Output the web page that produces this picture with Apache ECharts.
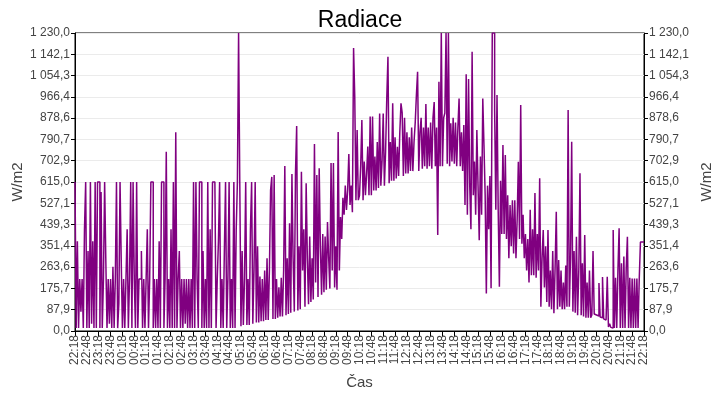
<!DOCTYPE html>
<html>
<head>
<meta charset="utf-8">
<title>Radiace</title>
<script src="https://cdn.jsdelivr.net/npm/echarts@6/dist/echarts.min.js"></script>
<style>
  html, body { margin: 0; padding: 0; background: #fff; }
  #chart { width: 720px; height: 400px; }
</style>
</head>
<body>
<div id="chart"></div>
<script>
// ============================================================
// DATA - radiation in W/m2, one reading every 3 minutes,
// from 22:18 to 22:18 the next day (481 readings)
// ============================================================

const startHour = 22;
const startMinute = 18;
const stepMinutes = 3;

// 22:18 - 05:18
const nightValues = [
  615, 12, 370, 12, 215, 80, 215, 12, 420, 615,
  12, 330, 12, 615, 30, 370, 12, 615, 12, 615,
  615, 12, 574, 12, 215, 615, 290, 12, 215, 30,
  215, 12, 265, 12, 215, 615, 12, 115, 615, 290,
  12, 215, 12, 215, 420, 12, 215, 615, 12, 615,
  215, 12, 615, 12, 215, 215, 330, 12, 215, 12,
  215, 420, 12, 215, 615, 615, 12, 215, 12, 215,
  12, 370, 12, 615, 615, 12, 215, 740, 12, 215,
  12, 420, 12, 615, 12, 820, 12, 215, 330, 12,
  215, 12, 215, 30, 215, 12, 215, 12, 215, 12,
  615, 12, 615, 215, 12, 615, 615, 12, 330, 12,
  215, 12, 615, 12, 420, 12, 615, 615, 615, 12,
  215, 370, 615, 12, 215, 12, 330, 615, 12, 215,
  615, 12, 215, 12, 615, 12, 420, 615, 1230, 615
];

// 05:18 - 10:18
const morningValues = [
  20, 330, 25, 215, 615, 25, 215, 25, 420, 615,
  30, 250, 615, 35, 350, 35, 225, 40, 215, 40,
  250, 45, 300, 45, 250, 582, 636, 50, 644, 50,
  215, 55, 180, 60, 220, 60, 250, 681, 65, 300,
  70, 445, 75, 648, 300, 80, 652, 846, 85, 350,
  90, 657, 250, 420, 100, 610, 300, 110, 390, 120,
  300, 130, 772, 200, 644, 140, 672, 350, 150, 400,
  160, 390, 170, 450, 300, 175, 693, 250, 693, 180,
  350, 170, 821, 250, 470, 380, 550, 480, 600, 500,
  580, 730, 520, 600, 490, 1168, 966, 540, 830, 540
];

// 10:18 - 15:48
const middayValues = [
  560, 680, 871, 540, 700, 560, 650, 761, 560, 885,
  560, 885, 580, 720, 580, 780, 590, 898, 600, 700,
  898, 600, 740, 960, 1132, 610, 780, 620, 940, 620,
  800, 630, 760, 640, 820, 940, 900, 640, 880, 650,
  820, 650, 800, 660, 840, 660, 780, 860, 974, 1070,
  660, 820, 880, 670, 840, 680, 937, 670, 840, 680,
  860, 670, 880, 945, 680, 840, 396, 1029, 680, 1230,
  680, 880, 900, 1230, 690, 1230, 680, 857, 700, 880,
  690, 860, 680, 840, 960, 680, 820, 660, 850, 520,
  1060, 480, 1040, 600, 420, 1153, 560, 700, 480, 830,
  600, 375, 720, 480, 960, 768, 560, 155, 600, 420
];

// 15:48 - 19:48
const afternoonValues = [
  640, 176, 1230, 1230, 912, 500, 974, 500, 183, 620,
  400, 768, 400, 726, 380, 560, 300, 520, 350, 540,
  320, 540, 300, 460, 699, 380, 933, 360, 480, 300,
  400, 250, 380, 200, 500, 230, 420, 230, 570, 220,
  400, 250, 630, 100, 300, 417, 180, 350, 120, 417,
  100, 250, 90, 330, 73, 260, 492, 90, 293, 100,
  250, 90, 200, 90, 270, 100, 912, 100, 300, 781,
  80, 330, 75, 389, 65, 250, 651, 65, 280, 60
];

// 19:48 - 22:18
const eveningValues = [
  396, 55, 200, 55, 250, 55, 66, 330, 70, 66,
  66, 62, 198, 58, 55, 223, 50, 45, 40, 224,
  17, 30, 15, 12, 417, 12, 220, 12, 250, 424,
  12, 280, 12, 307, 12, 258, 389, 12, 220, 12,
  217, 12, 217, 12, 217, 12, 217, 367, 367, 367,
  367
];

const radiationValues = nightValues.concat(morningValues, middayValues, afternoonValues, eveningValues);

// y axis: 0 .. 1230 in 14 steps
const yMax = 1230;
const yStep = yMax / 14;

// one category per reading, a label every 30 minutes
const timeLabels = [];
for (let i = 0; i < radiationValues.length; i++) {
  const total = (startHour * 60 + startMinute + i * stepMinutes) % (24 * 60);
  const h = Math.floor(total / 60);
  const m = total % 60;
  timeLabels.push(String(h).padStart(2, '0') + ':' + String(m).padStart(2, '0'));
}


// ============================================================
// FORMAT - Czech style numbers, "1 230,0"
// ============================================================

function czNumber(v) {
  const snapped = Math.round(v / yStep) * yStep;
  const parts = snapped.toFixed(1).split('.');
  const intPart = parts[0].replace(/\B(?=(\d{3})+(?!\d))/g, ' ');
  return intPart + ',' + parts[1];
}


// ============================================================
// CHART
// ============================================================

const chartInstance = echarts.init(document.getElementById('chart'));

const fontName = 'Liberation Sans';
const labelColor = '#444';

function valueAxis(position, showSplit, gap) {
  return {
    type: 'value',
    position: position,
    min: 0,
    max: yMax,
    interval: yStep,
    name: 'W/m2',
    nameLocation: 'middle',
    nameRotate: 90,
    nameGap: gap,
    nameMoveOverlap: false,
    nameTextStyle: { fontFamily: fontName, fontSize: 15, color: labelColor },
    axisLine: { show: true, lineStyle: { color: '#000', width: 1 } },
    axisTick: { show: true, length: 4, lineStyle: { color: '#000' } },
    axisLabel: {
      fontFamily: fontName,
      fontSize: 12,
      color: labelColor,
      margin: 5,
      formatter: czNumber
    },
    splitLine: { show: showSplit, lineStyle: { color: '#ebebeb', width: 1 } }
  };
}

chartInstance.setOption({
  animation: false,
  title: {
    text: 'Radiace',
    left: 'center',
    top: 4,
    textStyle: { fontFamily: fontName, fontSize: 23, fontWeight: 'normal', color: '#000' }
  },
  grid: {
    left: 75,
    right: 76,
    top: 33,
    bottom: 69,
    containLabel: false,
    outerBoundsMode: 'none',
    show: true,
    borderColor: '#000',
    borderWidth: 1
  },
  xAxis: {
    type: 'category',
    data: timeLabels,
    boundaryGap: false,
    name: 'Čas',
    nameLocation: 'middle',
    nameGap: 44,
    nameMoveOverlap: false,
    nameTextStyle: { fontFamily: fontName, fontSize: 15, color: labelColor },
    axisLine: { lineStyle: { color: '#000', width: 1 } },
    axisTick: { interval: 9, length: 5, lineStyle: { color: '#000' } },
    axisLabel: {
      interval: 9,
      rotate: 90,
      margin: 4,
      showMinLabel: true,
      showMaxLabel: true,
      hideOverlap: false,
      fontFamily: fontName,
      fontSize: 12,
      color: labelColor
    },
    splitLine: { show: false }
  },
  yAxis: [valueAxis('left', true, 50), valueAxis('right', false, 55)],
  series: [{
    type: 'line',
    yAxisIndex: 0,
    data: radiationValues,
    step: 'end',
    showSymbol: false,
    lineStyle: { color: '#800080', width: 1.5 },
    itemStyle: { color: '#800080' }
  }]
});
</script>
</body>
</html>
